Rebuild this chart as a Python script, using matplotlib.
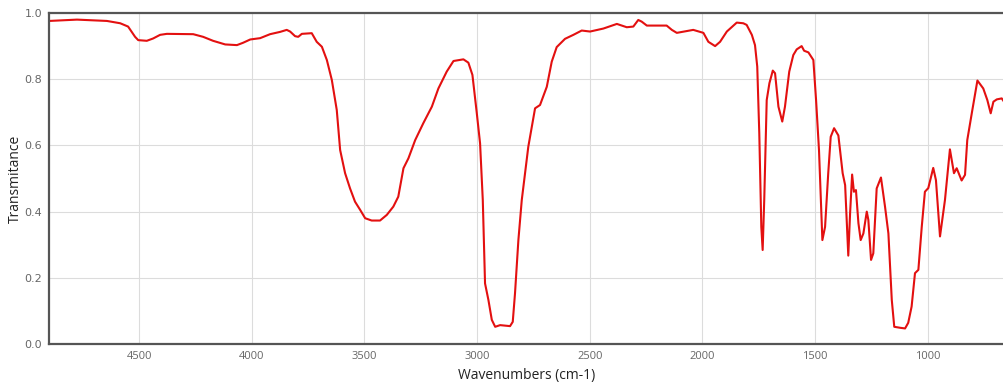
import matplotlib
matplotlib.use("Agg")
import matplotlib.pyplot as plt

# IR spectrum, values
wavenumbers = [
    4899, 4776, 4643, 4584, 4549, 4518, 4504, 4466, 4438, 4407, 4377, 4260,
    4216, 4172, 4118, 4066, 4039, 4007, 3963, 3919, 3874, 3845, 3830, 3808,
    3794, 3778, 3734, 3712, 3689, 3667, 3645, 3623, 3608, 3586, 3564, 3542,
    3519, 3497, 3468, 3431, 3401, 3372, 3350, 3327, 3305, 3275, 3239, 3201,
    3172, 3135, 3105, 3061, 3039, 3021, 3002, 2987, 2975, 2965, 2950, 2935,
    2920, 2898, 2854, 2842, 2832, 2817, 2802, 2773, 2743, 2721, 2691, 2669,
    2647, 2610, 2573, 2536, 2499, 2440, 2380, 2336, 2307, 2285, 2270, 2247,
    2159, 2136, 2114, 2041, 1996, 1974, 1944, 1922, 1892, 1848, 1819, 1804,
    1781, 1767, 1757, 1748, 1739, 1733, 1726, 1715, 1703, 1688, 1678, 1663,
    1646, 1634, 1615, 1597, 1582, 1560, 1549, 1530, 1508, 1496, 1483, 1468,
    1456, 1442, 1431, 1416, 1397, 1378, 1367, 1353, 1345, 1336, 1328, 1319,
    1308, 1298, 1286, 1271, 1264, 1252, 1242, 1227, 1208, 1190, 1175, 1160,
    1149, 1123, 1101, 1087, 1072, 1057, 1042, 1027, 1013, 998, 976, 964,
    946, 924, 902, 884, 872, 850, 835, 825, 805, 780, 754, 736,
    721, 709, 694, 672, 662,
]
transmittance = [
    0.976, 0.980, 0.976, 0.969, 0.959, 0.928, 0.918, 0.916, 0.923, 0.934, 0.937, 0.936,
    0.928, 0.916, 0.905, 0.903, 0.910, 0.920, 0.924, 0.936, 0.943, 0.949, 0.944, 0.930,
    0.928, 0.937, 0.939, 0.913, 0.898, 0.858, 0.798, 0.707, 0.586, 0.516, 0.470, 0.430,
    0.405, 0.380, 0.373, 0.373, 0.390, 0.415, 0.445, 0.531, 0.561, 0.616, 0.667, 0.717,
    0.772, 0.823, 0.855, 0.860, 0.850, 0.813, 0.700, 0.606, 0.435, 0.183, 0.133, 0.073,
    0.052, 0.057, 0.054, 0.067, 0.153, 0.314, 0.435, 0.596, 0.712, 0.722, 0.777, 0.853,
    0.897, 0.922, 0.934, 0.947, 0.944, 0.953, 0.967, 0.957, 0.959, 0.979, 0.974, 0.962,
    0.962, 0.949, 0.940, 0.949, 0.940, 0.913, 0.900, 0.913, 0.944, 0.971, 0.969, 0.964,
    0.934, 0.903, 0.838, 0.637, 0.354, 0.284, 0.435, 0.737, 0.788, 0.826, 0.818, 0.717,
    0.672, 0.717, 0.823, 0.873, 0.890, 0.900, 0.886, 0.881, 0.858, 0.737, 0.586, 0.314,
    0.354, 0.516, 0.626, 0.652, 0.630, 0.516, 0.480, 0.267, 0.395, 0.512, 0.460, 0.465,
    0.365, 0.314, 0.334, 0.400, 0.375, 0.254, 0.274, 0.470, 0.503, 0.415, 0.334, 0.133,
    0.052, 0.049, 0.047, 0.064, 0.113, 0.214, 0.224, 0.354, 0.460, 0.471, 0.532, 0.495,
    0.325, 0.435, 0.588, 0.516, 0.531, 0.494, 0.511, 0.616, 0.697, 0.796, 0.772, 0.737,
    0.697, 0.732, 0.739, 0.742, 0.732,
]

x_ticks = [4500, 4000, 3500, 3000, 2500, 2000, 1500, 1000]
y_ticks = [0.0, 0.2, 0.4, 0.6, 0.8, 1.0]

fig = plt.figure(figsize=(10.04, 3.89), dpi=100)
ax = fig.add_axes([49 / 1004, 45 / 389, 955 / 1004, 331 / 389])

ax.plot(wavenumbers, transmittance, color="#e31010", linewidth=1.5)

ax.set_xlim(4900, 662)
ax.set_ylim(0, 1)
ax.set_xticks(x_ticks)
ax.set_yticks(y_ticks)
ax.set_yticklabels([f"{v:.1f}" for v in y_ticks])
ax.grid(True, color="#dcdcdc", linewidth=0.8)
ax.set_axisbelow(True)

for side in ["left", "top", "bottom"]:
    ax.spines[side].set_color("#555555")
    ax.spines[side].set_linewidth(1.6)
ax.spines["right"].set_visible(False)

ax.tick_params(length=0, pad=5, colors="#666666", labelsize=8)
for lbl in ax.get_xticklabels():
    lbl.set_fontfamily("Open Sans")

ax.set_xlabel("Wavenumbers (cm-1)", fontsize=10, family="Open Sans", color="#222222", labelpad=4)
ax.set_ylabel("Transmitance", fontsize=10, family="Open Sans", color="#222222", labelpad=1)

fig.savefig("out.png", dpi=100)
